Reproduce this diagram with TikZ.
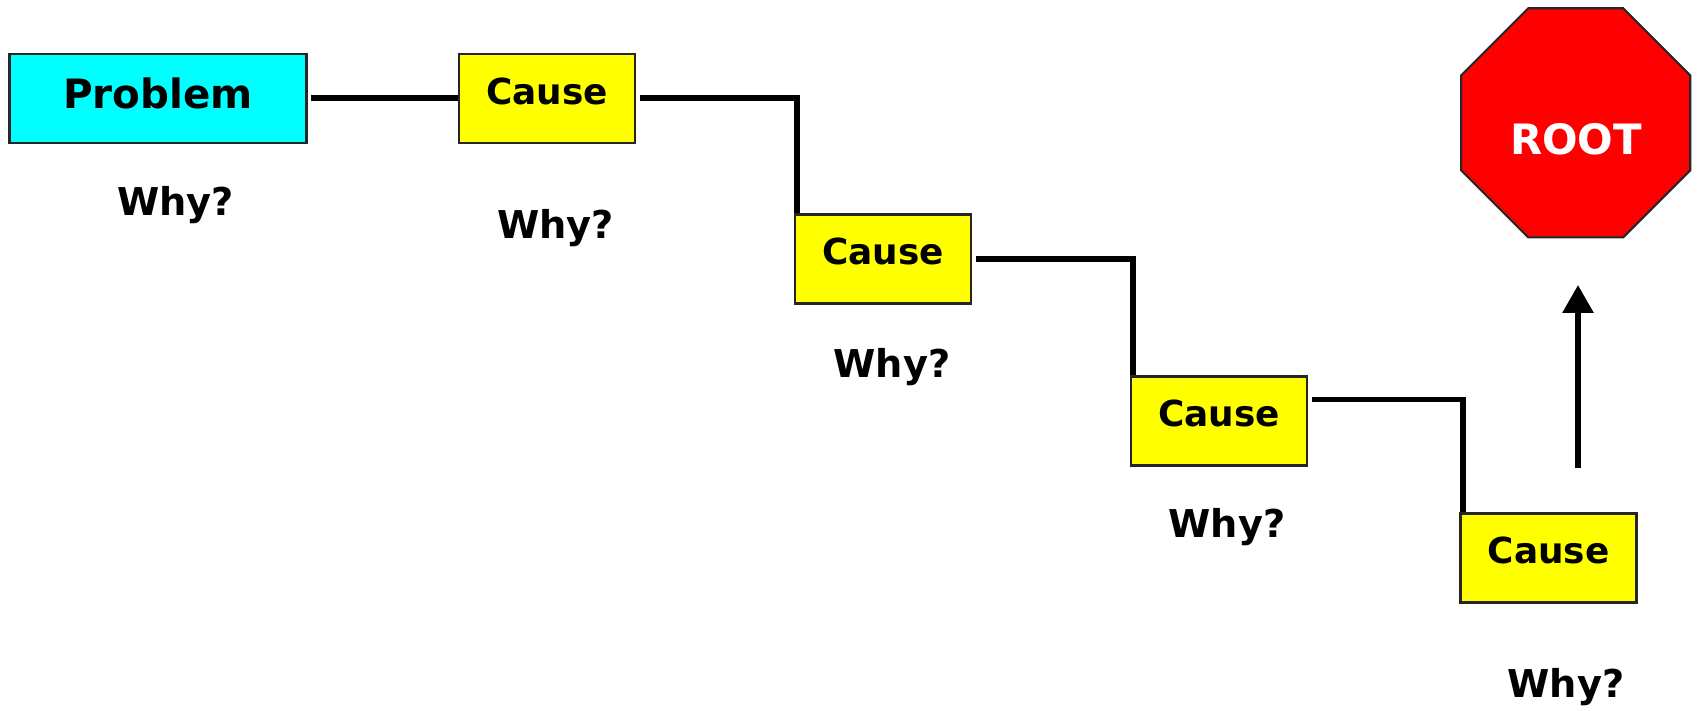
\documentclass[tikz,border=0pt]{standalone}
\usepackage{fontspec}
\setmainfont{DejaVu Sans}
\usetikzlibrary{arrows.meta,shapes.geometric}
\definecolor{probcol}{HTML}{00FFFF}
\definecolor{causecol}{HTML}{FFFF00}
\definecolor{rootcol}{HTML}{FF0000}

\begin{document}
\begin{tikzpicture}[
  probbox/.style={draw=black!85,line width=0.6pt,fill=probcol,minimum width=2.97cm,minimum height=0.89cm,inner sep=0pt,
    font=\fontsize{11.5}{13}\selectfont\bfseries,text height=0.30cm,text depth=0.10cm},
  causebox/.style={draw=black!85,line width=0.6pt,fill=causecol,minimum width=1.76cm,minimum height=0.89cm,inner sep=0pt,
    font=\fontsize{10.2}{12}\selectfont\bfseries,text height=0.26cm,text depth=0.14cm},
  why/.style={font=\fontsize{10.9}{12}\selectfont\bfseries,inner sep=0pt},
  wire/.style={line width=1.7pt},
]
  \useasboundingbox (0,0) rectangle (16.98,7.11);

  % Problem and the chain of causes
  \node[probbox] (problem) at (1.58,6.125) {Problem};
  \node[causebox] (c1) at (5.47,6.125) {Cause};
  \node[causebox] (c2) at (8.83,4.52) {Cause};
  \node[causebox] (c3) at (12.19,2.90) {Cause};
  \node[causebox] (c4) at (15.485,1.53) {Cause};

  % Why? below each box
  \node[why] (w0) at (1.755,5.06) {Why?};
  \node[why] (w1) at (5.556,4.825) {Why?};
  \node[why] (w2) at (8.92,3.44) {Why?};
  \node[why] (w3) at (12.27,1.84) {Why?};
  \node[why] (w4) at (15.66,0.235) {Why?};

  % Stepped connectors
  \draw[wire] ([xshift=0.03cm]problem.east) -- (c1.west);
  \draw[wire] ([xshift=0.04cm]c1.east) -| ([xshift=0.03cm]c2.north west);
  \draw[wire] ([xshift=0.04cm]c2.east) -| ([xshift=0.03cm]c3.north west);
  \draw[wire] ([xshift=0.04cm,yshift=0.215cm]c3.east) -| ([xshift=0.04cm]c4.north west);

  % Stop sign
  \node[regular polygon,regular polygon sides=8,minimum size=2.48cm,inner sep=0pt,
    draw=black!85,line width=0.6pt,fill=rootcol] (stop) at (15.757,5.882) {};
  \node[text=white,font=\fontsize{11.9}{13}\selectfont\bfseries,inner sep=0pt] (root) at (15.76,5.72) {ROOT};

  % Arrow up to the root
  \coordinate (foot) at (15.78,2.43);
  \coordinate (tip) at (15.78,4.26);
  \draw[wire,-{Triangle[width=0.30cm,length=0.28cm]}] (foot) -- (tip);
\end{tikzpicture}
\end{document}
